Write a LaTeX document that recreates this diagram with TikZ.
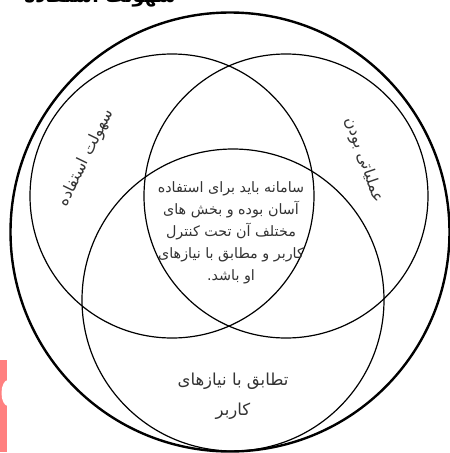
\documentclass[tikz,border=0pt]{standalone}
\usepackage{fontspec}
\TeXXeTstate=1
\newfontfamily\arabicfont[Script=Arabic]{DejaVu Sans}
\begin{document}
\begin{tikzpicture}[x=1pt,y=-1pt,
  ring/.style={circle,draw=black,line width=1.2pt,inner sep=0pt,fill=none},
  outer/.style={circle,draw=black,line width=2.4pt,inner sep=0pt},
  lbl/.style={text=black!80,font=\arabicfont\fontsize{16}{18}\selectfont,inner sep=0pt},
  midtxt/.style={text=black!80,align=center,font=\arabicfont\fontsize{14.3}{22}\selectfont,inner sep=0pt},
  bottxt/.style={text=black!80,align=center,font=\arabicfont\fontsize{16.5}{30}\selectfont,inner sep=0pt}]
\useasboundingbox (0,0) rectangle (450,453);
\begin{scope}
\clip (0,0) rectangle (450,453);
% red cropped mark at left edge
\fill[red!50!white] (0,360) -- (7,360) -- (7,452) -- (0,452) -- cycle;
\fill[white] (8,393) ellipse[x radius=6.5, y radius=13];
% title (cut off)
\node[font=\arabicfont\bfseries\fontsize{19}{22}\selectfont,anchor=base,inner sep=0pt] (title) at (100,2) {\beginR سهولت استفاده\endR};
% circles
\node[outer,minimum size=439pt] (O) at (230,232) {};
\node[ring,minimum size=284pt] (L) at (172,196) {};
\node[ring,minimum size=284pt] (R) at (286,196) {};
\node[ring,minimum size=302pt] (B) at (233,300) {};
% labels
\node[lbl,rotate=64] (tl) at (86,158) {\beginR سهولت استفاده\endR};
\node[lbl,rotate=-71] (tr) at (364,160) {\beginR عملیاتی بودن\endR};
\node[midtxt] (mid) at (231,233) {\beginR سامانه باید برای استفاده\endR\\
\beginR آسان بوده و بخش های\endR\\
\beginR مختلف آن تحت کنترل\endR\\
\beginR کاربر و مطابق با نیازهای\endR\\
\beginR او باشد.\endR};
\node[bottxt] (bot) at (233,396) {\beginR تطابق با نیازهای\endR\\
\beginR کاربر\endR};
\end{scope}
\end{tikzpicture}
\end{document}
